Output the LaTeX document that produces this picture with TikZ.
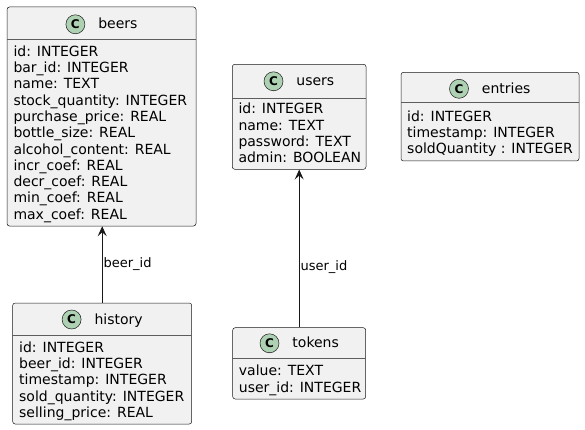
\documentclass[tikz,border=0pt]{standalone}
\usepackage{fontspec}
\setmainfont{DejaVu Sans}
\usepackage{tikz}
\usetikzlibrary{arrows.meta,positioning}
\definecolor{umlline}{HTML}{181818}
\definecolor{umlfill}{HTML}{F1F1F1}
\definecolor{spotgreen}{HTML}{ADD1B2}
\tikzstyle{classbox} = [draw=umlline, fill=umlfill, rectangle, rounded corners=2.5pt,
line width=0.5pt, inner sep=0pt]
\tikzstyle{spot} = [draw=umlline, fill=spotgreen, circle, line width=0.5pt,
minimum size=19pt, inner sep=0pt, font=\fontsize{12}{14}\selectfont\bfseries]
\tikzstyle{classname} = [inner sep=0pt, text height=11pt, text depth=2pt,
font=\fontsize{14}{16}\selectfont]
\tikzstyle{fields} = [anchor=north west, align=left, inner sep=0pt,
font=\fontsize{14}{16.3}\selectfont]
\tikzstyle{sep} = [draw=umlline!70, line width=0.5pt]
\tikzstyle{link} = [draw=umlline, line width=0.8pt]
\tikzstyle{linklabel} = [right, inner sep=1pt, font=\fontsize{13}{15}\selectfont]

\begin{document}
\begin{tikzpicture}[x=1pt, y=-1pt, >={Stealth[length=10pt,width=9pt,inset=4pt]}]
\useasboundingbox (0,0) rectangle (585,430);

% class boxes
\node [classbox, minimum width=189pt, minimum height=219pt] (beers) at (101.5,116.5) {};
\node [classbox, minimum width=179pt, minimum height=121pt] (history) at (102.2,363.5) {};
\node [classbox, minimum width=133.7pt, minimum height=105pt] (users) at (299.15,116.8) {};
\node [classbox, minimum width=178pt, minimum height=88.7pt] (entries) at (490,116.65) {};
\node [classbox, minimum width=133pt, minimum height=71.3pt] (tokens) at (299.2,363.35) {};

\draw [sep] (beers.west |- 0,39.5) -- (beers.east |- 0,39.5);
\draw [sep] (history.west |- 0,335.7) -- (history.east |- 0,335.7);
\draw [sep] (users.west |- 0,98.3) -- (users.east |- 0,98.3);
\draw [sep] (entries.west |- 0,102.7) -- (entries.east |- 0,102.7);
\draw [sep] (tokens.west |- 0,358.3) -- (tokens.east |- 0,358.3);

% headers
\node [spot] (beersC) at (75.4,24.3) {C};
\node [classname, right=13pt of beersC] (beersT) {beers};
\node [spot] (historyC) at (71.6,319.5) {C};
\node [classname, right=13pt of historyC] (historyT) {history};
\node [spot] (usersC) at (273.5,81.3) {C};
\node [classname, right=13pt of usersC] (usersT) {users};
\node [spot] (entriesC) at (459,88.8) {C};
\node [classname, right=13pt of entriesC] (entriesT) {entries};
\node [spot] (tokensC) at (269.5,343.3) {C};
\node [classname, right=13pt of tokensC] (tokensT) {tokens};

% fields
\node [fields] (beersF) at (13.3,45.4) {id: INTEGER\\bar\_id: INTEGER\\name: TEXT\\stock\_quantity: INTEGER\\purchase\_price: REAL\\bottle\_size: REAL\\alcohol\_content: REAL\\incr\_coef: REAL\\decr\_coef: REAL\\min\_coef: REAL\\max\_coef: REAL};
\node [fields] (historyF) at (19,341.4) {id: INTEGER\\beer\_id: INTEGER\\timestamp: INTEGER\\sold\_quantity: INTEGER\\selling\_price: REAL};
\node [fields] (usersF) at (238.3,102.9) {id: INTEGER\\name: TEXT\\password: TEXT\\admin: BOOLEAN};
\node [fields] (entriesF) at (407,110.4) {id: INTEGER\\timestamp: INTEGER\\soldQuantity : INTEGER};
\node [fields] (tokensF) at (238.7,364.9) {value: TEXT\\user\_id: INTEGER};

% links
\draw [link,->] (history.north) -- node [linklabel] {beer\_id} (history.north |- beers.south);
\draw [link,->] (tokens.north) -- node [linklabel, pos=0.38] {user\_id} (tokens.north |- users.south);
\end{tikzpicture}
\end{document}
